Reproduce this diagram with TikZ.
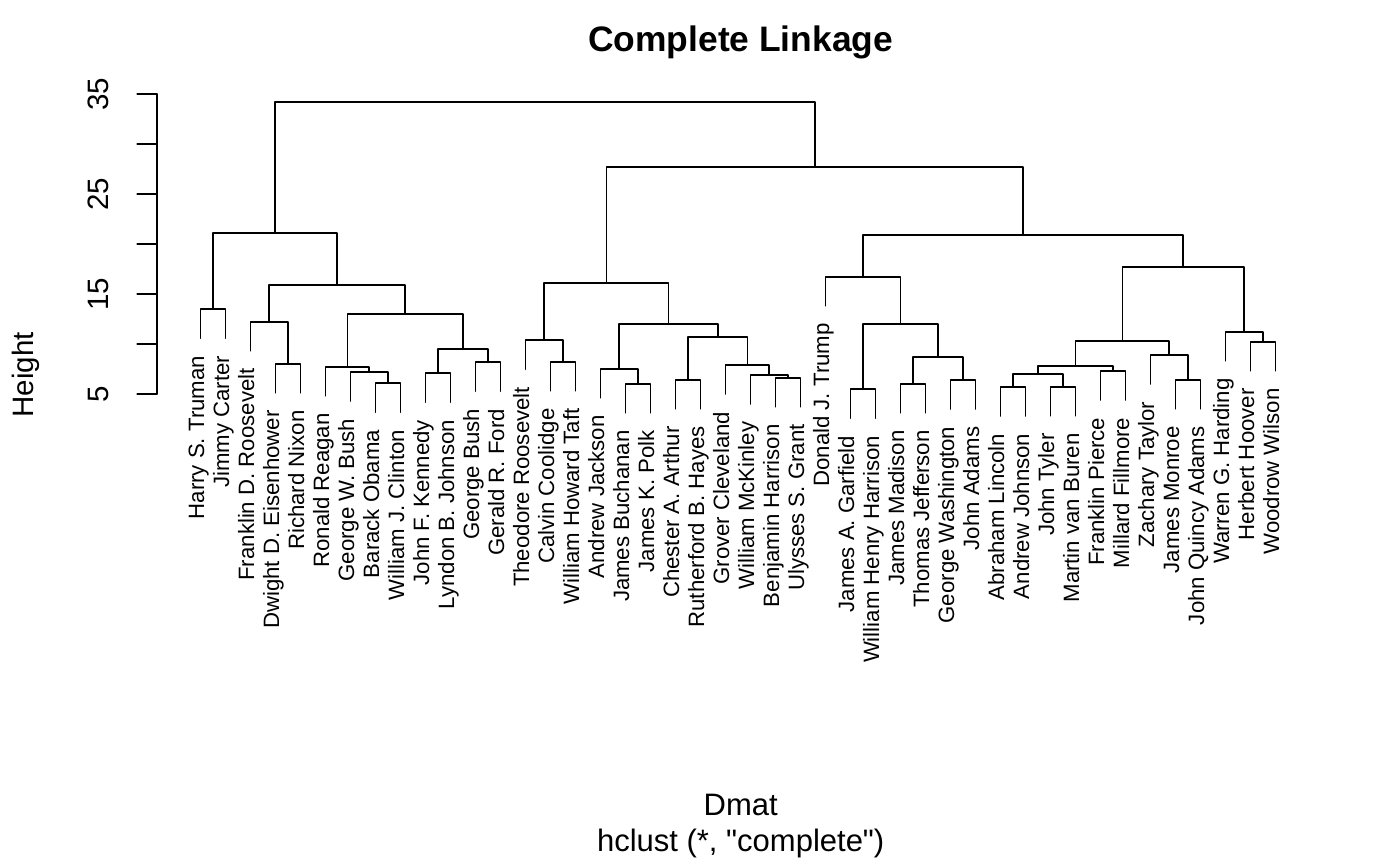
\documentclass[tikz,border=0pt]{standalone}
\usepackage{fontspec}
\setmainfont{Liberation Sans}[Ligatures=TeXOff]
\usetikzlibrary{calc}
\tikzset{
  dend/.style={line width=1.7pt, line cap=round, line join=round, black},
  lab/.style={rotate=90, anchor=base east, inner sep=0pt, font=\fontsize{22.2}{26}\selectfont},
  ticklab/.style={rotate=90, anchor=base, inner sep=0pt, font=\fontsize{29.5}{34}\selectfont},
  axlab/.style={anchor=base, inner sep=0pt, font=\fontsize{31}{36}\selectfont},
  titlelab/.style={anchor=base, inner sep=0pt, font=\fontsize{35.4}{40}\selectfont\bfseries}
}
\newcommand\leafnode[3]{%
  \coordinate (l#1) at ({200.5+25*(#1-1)},#2);
  \node[lab] (t#1) at ($(l#1)+(3.5,17.5)$) {#3};}
\newcommand\mergenode[5]{%
  \coordinate (#1) at (#2,#3);
  \draw[dend] (#4) |- (#1) -| (#5);}
\begin{document}
\begin{tikzpicture}[x=1pt,y=-1pt]
\useasboundingbox (0,0) rectangle (1400,865);
% leaves
\leafnode{1}{338.3}{Harry S. Truman}
\leafnode{2}{338.3}{Jimmy Carter}
\leafnode{3}{350.7}{Franklin D. Roosevelt}
\leafnode{4}{392.7}{Dwight D. Eisenhower}
\leafnode{5}{392.7}{Richard Nixon}
\leafnode{6}{395.7}{Ronald Reagan}
\leafnode{7}{401}{George W. Bush}
\leafnode{8}{412.3}{Barack Obama}
\leafnode{9}{412.3}{William J. Clinton}
\leafnode{10}{402.3}{John F. Kennedy}
\leafnode{11}{402.3}{Lyndon B. Johnson}
\leafnode{12}{391.3}{George Bush}
\leafnode{13}{391.3}{Gerald R. Ford}
\leafnode{14}{369.3}{Theodore Roosevelt}
\leafnode{15}{390.7}{Calvin Coolidge}
\leafnode{16}{390.7}{William Howard Taft}
\leafnode{17}{397.7}{Andrew Jackson}
\leafnode{18}{412.7}{James Buchanan}
\leafnode{19}{412.7}{James K. Polk}
\leafnode{20}{408.7}{Chester A. Arthur}
\leafnode{21}{408.7}{Rutherford B. Hayes}
\leafnode{22}{394}{Grover Cleveland}
\leafnode{23}{404}{William McKinley}
\leafnode{24}{406.7}{Benjamin Harrison}
\leafnode{25}{406.7}{Ulysses S. Grant}
\leafnode{26}{305.7}{Donald J. Trump}
\leafnode{27}{418.3}{James A. Garfield}
\leafnode{28}{418.3}{William Henry Harrison}
\leafnode{29}{412.7}{James Madison}
\leafnode{30}{412.7}{Thomas Jefferson}
\leafnode{31}{409}{George Washington}
\leafnode{32}{409}{John Adams}
\leafnode{33}{416}{Abraham Lincoln}
\leafnode{34}{416}{Andrew Johnson}
\leafnode{35}{415.7}{John Tyler}
\leafnode{36}{415.7}{Martin van Buren}
\leafnode{37}{400}{Franklin Pierce}
\leafnode{38}{400}{Millard Fillmore}
\leafnode{39}{384}{Zachary Taylor}
\leafnode{40}{408.7}{James Monroe}
\leafnode{41}{408.7}{John Quincy Adams}
\leafnode{42}{360.7}{Warren G. Harding}
\leafnode{43}{370.7}{Herbert Hoover}
\leafnode{44}{370.7}{Woodrow Wilson}
% merges
\mergenode{m1}{213}{309.3}{l1}{l2}
\mergenode{m2}{288}{363.7}{l4}{l5}
\mergenode{m3}{269.25}{321.7}{l3}{m2}
\mergenode{m4}{388}{383.3}{l8}{l9}
\mergenode{m5}{369.25}{372}{l7}{m4}
\mergenode{m6}{347.4}{366.7}{l6}{m5}
\mergenode{m7}{438}{373.3}{l10}{l11}
\mergenode{m8}{488}{362.3}{l12}{l13}
\mergenode{m9}{463}{349.3}{m7}{m8}
\mergenode{m10}{405.2}{313.7}{m6}{m9}
\mergenode{m11}{337.2}{285}{m3}{m10}
\mergenode{m12}{275.1}{233.3}{m1}{m11}
\mergenode{m13}{563}{361.7}{l15}{l16}
\mergenode{m14}{544.25}{340.3}{l14}{m13}
\mergenode{m15}{638}{383.7}{l18}{l19}
\mergenode{m16}{619.25}{368.7}{l17}{m15}
\mergenode{m17}{688}{379.7}{l20}{l21}
\mergenode{m18}{788}{377.7}{l24}{l25}
\mergenode{m19}{769.25}{375}{l23}{m18}
\mergenode{m20}{747.4}{365}{l22}{m19}
\mergenode{m21}{717.7}{336.7}{m17}{m20}
\mergenode{m22}{668.5}{324.3}{m16}{m21}
\mergenode{m23}{606.4}{282.7}{m14}{m22}
\mergenode{m24}{863}{389.3}{l27}{l28}
\mergenode{m25}{913}{383.7}{l29}{l30}
\mergenode{m26}{963}{380}{l31}{l32}
\mergenode{m27}{938}{357.3}{m25}{m26}
\mergenode{m28}{900.5}{324}{m24}{m27}
\mergenode{m29}{863}{276.7}{l26}{m28}
\mergenode{m30}{1013}{387}{l33}{l34}
\mergenode{m31}{1063}{386.7}{l35}{l36}
\mergenode{m32}{1038}{374.3}{m30}{m31}
\mergenode{m33}{1113}{371}{l37}{l38}
\mergenode{m34}{1075.5}{365.7}{m32}{m33}
\mergenode{m35}{1188}{379.7}{l40}{l41}
\mergenode{m36}{1169.25}{355}{l39}{m35}
\mergenode{m37}{1122.4}{341}{m34}{m36}
\mergenode{m38}{1263}{341.7}{l43}{l44}
\mergenode{m39}{1244.25}{331.7}{l42}{m38}
\mergenode{m40}{1183.3}{267.3}{m37}{m39}
\mergenode{m41}{1023.2}{235.3}{m29}{m40}
\mergenode{m42}{814.8}{167.3}{m23}{m41}
\mergenode{m43}{544.95}{102.3}{m12}{m42}
% axis
\coordinate (axtop) at (156.7,94);
\coordinate (axbot) at (156.7,394);
\draw[dend] (axtop) -- (axbot);
\foreach \v/\yy in {5/394,10/344,15/294,20/244,25/194,30/144,35/94}{
  \coordinate (tk\v) at (156.7,\yy);
  \draw[dend] (tk\v) -- ++(-19.5,0);
}
\foreach \v/\yy in {5/394,15/294,25/194,35/94}{
  \node[ticklab] (tl\v) at (108.3,\yy) {\v};
}
\node[ticklab] (ylab) at (33,375) {Height};
\node[titlelab] (title) at (740.7,51.7) {Complete Linkage};
\node[axlab] (xlab) at (740.7,815) {Dmat};
\node[axlab] (sublab) at (740.7,851.7) {hclust (*, "complete")};
\end{tikzpicture}
\end{document}
